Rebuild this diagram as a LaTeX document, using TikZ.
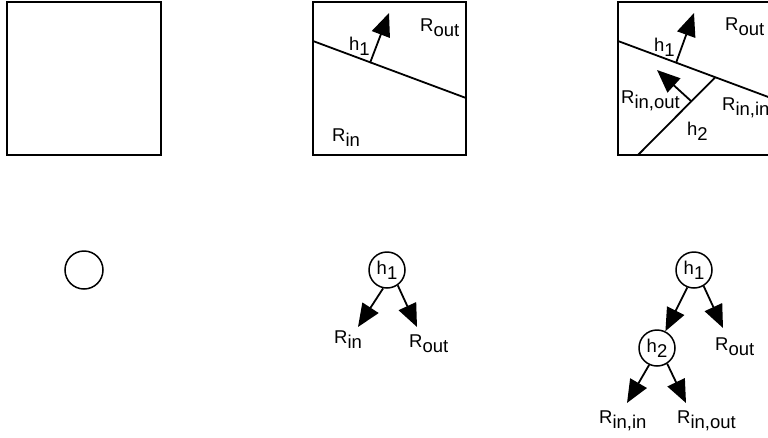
\documentclass[tikz,border=0pt]{standalone}
\usepackage{fontspec}
\setmainfont{Liberation Sans}
\usetikzlibrary{arrows.meta}
\newcommand\sbx[1]{\raisebox{-5pt}{#1}}
\begin{document}
\begin{tikzpicture}[x=1pt,y=-1pt,
  lbl/.style={inner sep=0pt, anchor=base west, font=\fontsize{18.5}{18.5}\selectfont},
  tnode/.style={circle, draw, line width=1.5pt, minimum size=36pt, inner sep=0pt, font=\fontsize{18.5}{18.5}\selectfont},
  ln/.style={line width=1.8pt},
  arr/.style={line width=1.8pt, -{Triangle[length=23pt,width=19pt]}}]
\useasboundingbox (0,0) rectangle (768,437);
% square 1
\draw[ln] (7,2) rectangle (161,155);
% square 2
\draw[ln] (313,2) rectangle (466,155);
\coordinate (qa1) at (313,41);
\coordinate (qb1) at (466,98);
\draw[ln] (qa1) -- (qb1);
\coordinate (qs1) at (370,63);
\coordinate (qe1) at (389,13);
\draw[arr] (qs1) -- (qe1);
\node[lbl] (q2h1) at (349,50) {h\sbx{1}};
\node[lbl] (q2ro) at (420,31) {R\sbx{out}};
\node[lbl] (q2ri) at (332,141) {R\sbx{in}};
% square 3
\draw[ln] (618,2) rectangle (771,155);
\coordinate (ra1) at (618,41);
\coordinate (rb1) at (771,98);
\draw[ln] (ra1) -- (rb1);
\coordinate (ra2) at (638,155);
\coordinate (rb2) at (715,77.5);
\draw[ln] (ra2) -- (rb2);
\coordinate (rs1) at (676,63);
\coordinate (re1) at (694,13);
\draw[arr] (rs1) -- (re1);
\coordinate (rs2) at (691,101);
\coordinate (re2) at (657,70);
\draw[arr] (rs2) -- (re2);
\node[lbl] (q3h1) at (654,51) {h\sbx{1}};
\node[lbl] (q3ro) at (725,30) {R\sbx{out}};
\node[lbl] (q3rio) at (621,103) {R\sbx{in,out}};
\node[lbl] (q3h2) at (687,135) {h\sbx{2}};
\node[lbl] (q3rii) at (722,110) {R\sbx{in,in}};
% tree 1
\node[tnode, minimum size=38pt] (c0) at (84,270) {};
% tree 2
\node[tnode] (t2h1) at (387,270) {h\sbx{1}};
\coordinate (t2a) at (358,327);
\coordinate (t2b) at (417,327);
\draw[arr] (t2h1.258) -- (t2a);
\draw[arr] (t2h1.305) -- (t2b);
\node[lbl] (t2ri) at (334,343) {R\sbx{in}};
\node[lbl] (t2ro) at (409,347) {R\sbx{out}};
% tree 3
\node[tnode] (t3h1) at (694,270) {h\sbx{1}};
\node[tnode] (t3h2) at (657,348) {h\sbx{2}};
\coordinate (t3b) at (723,328);
\coordinate (t3c) at (627,403);
\coordinate (t3d) at (686,403);
\draw[arr] (t3h1.249) -- (t3h2);
\draw[arr] (t3h1.301) -- (t3b);
\draw[arr] (t3h2.245) -- (t3c);
\draw[arr] (t3h2.303) -- (t3d);
\node[lbl] (t3ro) at (715,350) {R\sbx{out}};
\node[lbl] (t3rii) at (599,423) {R\sbx{in,in}};
\node[lbl] (t3rio) at (677,423) {R\sbx{in,out}};
\end{tikzpicture}
\end{document}
